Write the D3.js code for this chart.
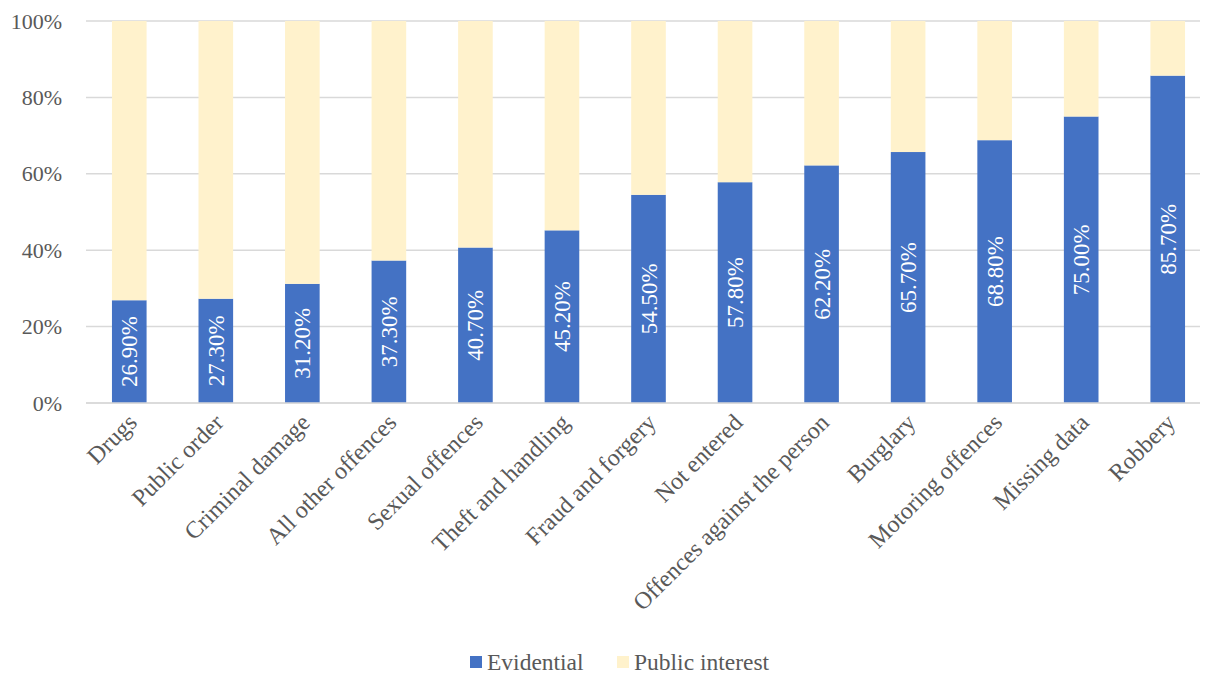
<!DOCTYPE html>
<html>
<head>
<meta charset="utf-8">
<script src="https://cdn.jsdelivr.net/npm/d3@7"></script>
<style>
  html, body { margin: 0; padding: 0; background: #fff; }
  svg text { font-family: 'Liberation Serif', 'Times New Roman', Tinos, 'DejaVu Serif', serif; }
</style>
</head>
<body>
<svg id="chart" width="1210" height="675"></svg>
<script>
// Offence categories, ordered by evidential share
const categories = [
  "Drugs", "Public order", "Criminal damage", "All other offences",
  "Sexual offences", "Theft and handling", "Fraud and forgery", "Not entered",
  "Offences against the person", "Burglary", "Motoring offences",
  "Missing data", "Robbery"
];
// Evidential share (%) per category
const evidential = [26.9, 27.3, 31.2, 37.3, 40.7, 45.2, 54.5, 57.8, 62.2, 65.7, 68.8, 75.0, 85.7];
// Public interest share (%) is the remainder of each 100% bar
const publicInterest = evidential.map(v => +(100 - v).toFixed(1));
const seriesNames = ["Evidential", "Public interest"];
const seriesColors = ["#4472c4", "#fff2cc"];
const yTicks = [0, 20, 40, 60, 80, 100];

const FONT = "'Liberation Serif', 'Times New Roman', Tinos, 'DejaVu Serif', serif";
const svg = d3.select("#chart");
const plotLeft = 86, plotRight = 1200, plotTop = 21, plotBottom = 403;

const x = d3.scaleBand().domain(categories).range([plotLeft, 1211]).paddingInner(0.6).paddingOuter(0.3);
const y = d3.scaleLinear().domain([0, 100]).range([plotBottom, plotTop]);

// Gridlines
svg.append("g")
  .selectAll("line")
  .data(yTicks)
  .join("line")
  .attr("x1", plotLeft).attr("x2", plotRight)
  .attr("y1", d => y(d)).attr("y2", d => y(d))
  .attr("stroke", "#d9d9d9").attr("stroke-width", 1.5);

// Y axis labels
const yAxis = d3.axisLeft(y).tickValues(yTicks).tickFormat(d => d + "%").tickSize(0).tickPadding(24);
const gy = svg.append("g").attr("transform", `translate(${plotLeft},0)`).call(yAxis)
  .attr("font-family", FONT);
gy.select(".domain").remove();
gy.selectAll("text")
  .attr("fill", "#595959")
  .attr("font-family", FONT)
  .style("font-size", "22px");

// Stacked rows
const rows = categories.map((c, i) => ({ cat: c, Evidential: evidential[i], "Public interest": publicInterest[i] }));
const stack = d3.stack().keys(seriesNames)(rows);

svg.append("g")
  .selectAll("g")
  .data(stack)
  .join("g")
  .attr("fill", (d, i) => seriesColors[i])
  .selectAll("rect")
  .data(d => d)
  .join("rect")
  .attr("x", d => x(d.data.cat))
  .attr("width", x.bandwidth())
  .attr("y", d => y(d[1]))
  .attr("height", d => y(d[0]) - y(d[1]));

// Value labels inside evidential segments
svg.append("g")
  .selectAll("text")
  .data(stack[0])
  .join("text")
  .attr("transform", d => `translate(${x(d.data.cat) + x.bandwidth() / 2},${(y(d[0]) + y(d[1])) / 2}) rotate(-90)`)
  .attr("text-anchor", "middle")
  .attr("dy", "0.35em")
  .attr("fill", "#ffffff")
  .attr("font-family", FONT)
  .style("font-size", "23px")
  .text(d => d.data.Evidential.toFixed(2) + "%");

// Axis baseline
svg.append("line")
  .attr("x1", plotLeft).attr("x2", plotRight)
  .attr("y1", y(0)).attr("y2", y(0))
  .attr("stroke", "#d9d9d9").attr("stroke-width", 1.5);

// Category labels
const xAxis = d3.axisBottom(x).tickSize(0).tickPadding(0);
const gx = svg.append("g").attr("transform", `translate(0,${plotBottom})`).call(xAxis)
  .attr("font-family", FONT);
gx.select(".domain").remove();
gx.selectAll("text")
  .attr("fill", "#595959")
  .attr("font-family", FONT)
  .style("font-size", "24px")
  .attr("text-anchor", "end")
  .attr("dy", null)
  .attr("y", 0)
  .attr("transform", "translate(9,21) rotate(-45)");

// Legend
const legend = svg.append("g").attr("transform", "translate(470,662)");
const legendX = [0, 147];
seriesNames.forEach((name, i) => {
  const g = legend.append("g").attr("transform", `translate(${legendX[i]},0)`);
  g.append("rect").attr("x", 0).attr("y", -6).attr("width", 12).attr("height", 12).attr("fill", seriesColors[i]);
  g.append("text").attr("x", 17).attr("y", 0).attr("dy", "0.35em")
    .attr("fill", "#595959").attr("font-family", FONT).style("font-size", "23.5px").text(name);
});
</script>
</body>
</html>
